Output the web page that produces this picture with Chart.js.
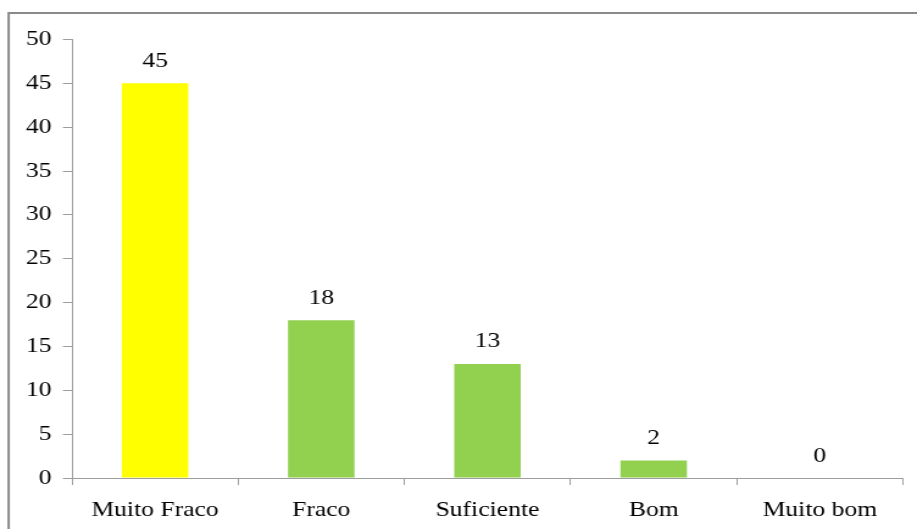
<!DOCTYPE html>
<html>
<head>
<meta charset="utf-8">
<script src="https://cdn.jsdelivr.net/npm/chart.js@4"></script>
<style>
    html, body { margin: 0; padding: 0; background: #fff; overflow: hidden; }
    /* the chart is laid out narrower and widened, so glyphs come out wide like the original slide */
    #wrap { width: 752px; height: 529px; transform: scaleX(1.2194); transform-origin: 0 0; }
</style>
</head>
<body>
<div id="wrap"><canvas id="notasChart"></canvas></div>
<script>
const categories = ['Muito Fraco', 'Fraco', 'Suficiente', 'Bom', 'Muito bom'];
const values = [45, 18, 13, 2, 0];
const yTicks = [0, 5, 10, 15, 20, 25, 30, 35, 40, 45, 50];

const YELLOW = '#ffff00';
const GREEN = '#92d050';
const AXIS_GRAY = '#9d9d9d';
const serif = { family: '"Liberation Serif", "Times New Roman", serif', size: 21 };

// moldura cinza do gráfico (só aparecem os lados esquerdo e de cima)
const frame = {
    id: 'frame',
    beforeDraw(chart) {
        const ctx = chart.ctx;
        ctx.save();
        ctx.strokeStyle = '#8a8a8a';
        ctx.lineWidth = 2;
        ctx.strokeRect(7.1, 13, chart.width + 20, chart.height + 20);
        ctx.restore();
    }
};

// valor escrito por cima de cada coluna
const valueLabels = {
    id: 'valueLabels',
    afterDatasetsDraw(chart) {
        const ctx = chart.ctx;
        const meta = chart.getDatasetMeta(0);
        ctx.save();
        ctx.font = `${serif.size}px ${serif.family}`;
        ctx.fillStyle = '#000';
        ctx.textAlign = 'center';
        ctx.textBaseline = 'alphabetic';
        meta.data.forEach((bar, i) => {
            ctx.fillText(String(values[i]), bar.x, bar.y - 16.5);
        });
        ctx.restore();
    }
};

new Chart(document.getElementById('notasChart'), {
    type: 'bar',
    data: {
        labels: categories,
        datasets: [{
            data: values,
            backgroundColor: values.map((v, i) => i === 0 ? YELLOW : GREEN),
            borderWidth: 0,
            barPercentage: 0.4,
            categoryPercentage: 1
        }]
    },
    options: {
        responsive: true,
        maintainAspectRatio: false,
        animation: false,
        layout: { padding: { top: 39.5, right: 11.5, left: 0, bottom: 0 } },
        plugins: {
            legend: { display: false },
            tooltip: { enabled: false }
        },
        scales: {
            x: {
                afterFit(scale) { scale.height = 51; },
                grid: {
                    drawOnChartArea: false,
                    drawTicks: true,
                    tickLength: 7,
                    color: AXIS_GRAY,
                    offset: true
                },
                border: { color: AXIS_GRAY, width: 1 },
                ticks: { color: '#000', font: serif, padding: 13, maxRotation: 0 }
            },
            y: {
                min: 0,
                max: 50,
                afterFit(scale) { scale.width = 59; },
                afterBuildTicks(scale) { scale.ticks = yTicks.map(v => ({ value: v })); },
                grid: {
                    drawOnChartArea: false,
                    drawTicks: true,
                    tickLength: 7.4,
                    color: AXIS_GRAY
                },
                border: { color: AXIS_GRAY, width: 1 },
                ticks: { color: '#000', font: serif, padding: 9.3 }
            }
        }
    },
    plugins: [frame, valueLabels]
});
</script>
</body>
</html>
